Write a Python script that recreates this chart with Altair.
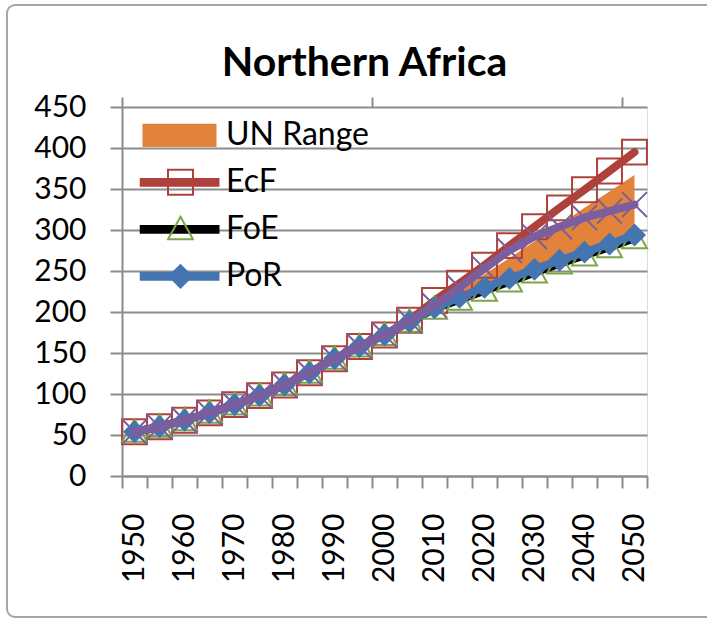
import altair as alt
import pandas as pd

# Population of Northern Africa (millions), 1950-2050 in 5-year steps
years = list(range(1950, 2051, 5))
ecf = [54, 60, 68, 77, 87, 98, 111, 126, 143, 158, 172, 190, 214, 235, 257, 281, 304, 327, 349, 372, 395]
foe = [54, 60, 68, 77, 87, 98, 111, 126, 143, 158, 172, 188, 204, 215, 226, 237, 248, 259, 269, 279, 290]
por = [54, 60, 68, 77, 87, 98, 111, 126, 143, 158, 172, 188, 205, 218, 230, 241, 252, 263, 273, 283, 294]
un_medium = [54, 60, 68, 77, 87, 98, 111, 126, 143, 158, 172, 189, 208, 230, 253, 275, 292, 304, 315, 323, 331]

# UN projection range (low / high variants)
range_years = list(range(2010, 2051, 5))
un_low = [208, 218, 229, 240, 250, 260, 269, 277, 285]
un_high = [208, 226, 246, 266, 286, 306, 327, 347, 367]

legend_names = ["UN Range", "EcF", "FoE", "PoR"]
y_ticks = list(range(0, 451, 50))
decade_years = [1950, 2000, 2050]

ORANGE = "#E3833B"
RED = "#AF413D"
BLACK = "#000000"
BLUE = "#4475B1"
GREEN = "#7DA446"
PURPLE = "#7B5E9D"
GRID = "#8C8C8C"
FONT = "Lato"

W, H = 525, 369

series = pd.DataFrame({"year": years, "EcF": ecf, "FoE": foe, "PoR": por, "Medium": un_medium})
band = pd.DataFrame({"year": range_years, "low": un_low, "high": un_high})

x_scale = alt.Scale(type="band", domain=years, paddingInner=0, paddingOuter=0)
y_scale = alt.Scale(domain=[0, 450], nice=False, zero=True)
y_axis = alt.Axis(values=y_ticks, grid=True, gridColor=GRID, gridWidth=2,
                  domainColor=GRID, domainWidth=2, tickColor=GRID, tickWidth=2,
                  tickSize=12, labelPadding=24, labelFont=FONT, labelFontSize=30,
                  labelColor="black", title=None)

x_bottom = alt.X("year:O", scale=x_scale, axis=alt.Axis(
    values=years, tickBand="extent", labelOverlap=False,
    labelExpr="datum.value % 10 == 0 ? datum.label : ''",
    labelAngle=-90, labelFont=FONT, labelFontSize=30, labelColor="black",
    labelPadding=25, tickSize=12, tickColor=GRID, tickWidth=2,
    domainColor=GRID, domainWidth=2, grid=False, title=None))
x_top = alt.X("year:O", scale=x_scale, axis=alt.Axis(
    orient="top", values=decade_years, bandPosition=0, labels=False,
    domain=False, tickSize=10, tickColor=GRID, tickWidth=2, grid=False, title=None))
x_plain = alt.X("year:O", scale=x_scale, axis=None)


def yq(field):
    return alt.Y(f"{field}:Q", scale=y_scale, axis=y_axis)


# outer chart frame
frame = alt.Chart(pd.DataFrame({"k": [0]})).mark_rect(
    filled=False, stroke="#A6A6A6", strokeWidth=2, cornerRadius=8
).encode(x=alt.value(-115), x2=alt.value(620), y=alt.value(-102), y2=alt.value(510))

area = alt.Chart(band).mark_area(color=ORANGE, opacity=1).encode(
    x=x_bottom, y=yq("low"), y2="high:Q")


def line_layer(field, color, x_enc):
    return alt.Chart(series).mark_line(color=color, strokeWidth=8, strokeJoin="round",
                                       strokeCap="round").encode(x=x_enc, y=yq(field))


SQUARE = "M-1,-1H1V1H-1Z"
TRIANGLE = "M0,-1L1,0.8H-1Z"
DIAMOND = "M0,-0.9L0.9,0L0,0.9L-0.9,0Z"
XMARK = "M-1,-1L1,1M-1,1L1,-1"

ecf_line = line_layer("EcF", RED, x_top)
ecf_pts = alt.Chart(series).mark_point(shape=SQUARE, filled=False, stroke=RED, strokeWidth=2,
                                       size=620, opacity=1).encode(x=x_plain, y=yq("EcF"))
foe_line = line_layer("FoE", BLACK, x_plain)
foe_pts = alt.Chart(series).mark_point(shape=TRIANGLE, filled=False, stroke=GREEN, strokeWidth=2,
                                       size=620, opacity=1).encode(x=x_plain, y=yq("FoE"))
por_line = line_layer("PoR", BLUE, x_plain)
por_pts = alt.Chart(series).mark_point(shape=DIAMOND, filled=True, fill=BLUE, strokeWidth=0,
                                       size=650, opacity=1).encode(x=x_plain, y=yq("PoR"))
med_line = line_layer("Medium", PURPLE, x_plain)
med_pts = alt.Chart(series).mark_point(shape=XMARK, filled=False, stroke=PURPLE, strokeWidth=2,
                                       size=620, opacity=1).encode(x=x_plain, y=yq("Medium"))

# legend: bars / line strokes with labels
legend_fill = [ORANGE, RED, BLACK, BLUE]
legend_paths = ["M-0.925,-0.29H0.925V0.29H-0.925Z", "M-1,-0.11H1V0.11H-1Z",
                "M-1,-0.11H1V0.11H-1Z", "M-1,-0.11H1V0.11H-1Z"]
lg_a = alt.Legend(orient="none", legendX=17.5, legendY=5, title=None, padding=0,
                  symbolOffset=0, labelOffset=6.5, clipHeight=46.7, rowPadding=0,
                  symbolSize=6400, symbolStrokeWidth=0, labelFont=FONT, labelFontSize=32,
                  labelColor="black")
legend_a = alt.Chart(pd.DataFrame({"entry": legend_names})).mark_point(filled=True, opacity=1).encode(
    fill=alt.Fill("entry:N", scale=alt.Scale(domain=legend_names, range=legend_fill), legend=lg_a),
    shape=alt.Shape("entry:N", scale=alt.Scale(domain=legend_names, range=legend_paths), legend=lg_a),
).transform_filter("false")

# legend: marker glyphs drawn over the strokes
marker_paths = ["M0,0", SQUARE, TRIANGLE, DIAMOND]
marker_stroke = ["transparent", RED, GREEN, BLUE]
marker_fill = ["transparent", "transparent", "transparent", BLUE]
lg_b = alt.Legend(orient="none", legendX=45, legendY=5, title=None, padding=0,
                  symbolOffset=0, labelOffset=0, clipHeight=46.7, rowPadding=0,
                  symbolSize=625, symbolStrokeWidth=2, labelExpr="''", labelFontSize=1)
legend_b = alt.Chart(pd.DataFrame({"marker": legend_names})).mark_point(filled=False, opacity=1).encode(
    stroke=alt.Stroke("marker:N", scale=alt.Scale(domain=legend_names, range=marker_stroke), legend=lg_b),
    fill=alt.Fill("marker:N", scale=alt.Scale(domain=legend_names, range=marker_fill), legend=lg_b),
    shape=alt.Shape("marker:N", scale=alt.Scale(domain=legend_names, range=marker_paths), legend=lg_b),
).transform_filter("false")

chart = alt.layer(
    frame, area, ecf_line, ecf_pts, foe_line, foe_pts, por_line, por_pts, med_line, med_pts,
    legend_a, legend_b,
).resolve_axis(x="independent").resolve_scale(
    fill="independent", shape="independent", stroke="independent"
).properties(
    width=W, height=H,
    title=alt.TitleParams(text="Northern Africa", font=FONT, fontSize=41, fontWeight="bold",
                          color="black", anchor="middle", dx=-20, offset=-81),
    autosize=alt.AutoSizeParams(type="none"),
    padding={"left": 122, "top": 107, "right": 60, "bottom": 143},
).configure_view(stroke=None).configure(background="white")

chart.save("out.html", embed_options={"renderer": "svg", "actions": False})
